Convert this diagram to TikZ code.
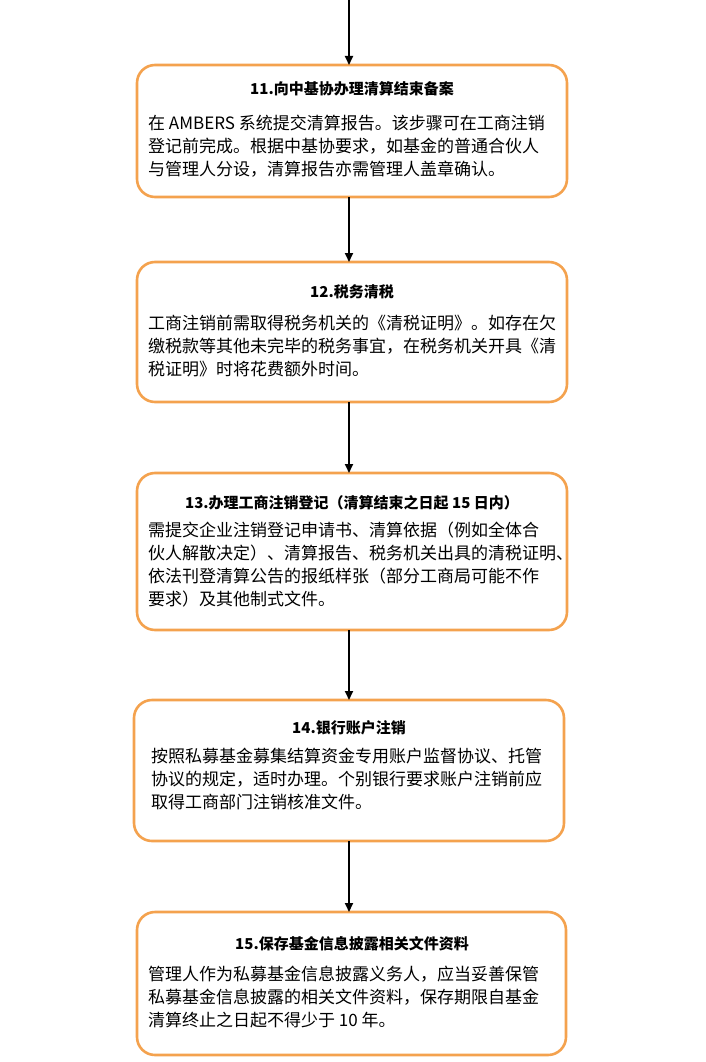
\documentclass[tikz,border=0pt]{standalone}
\usepackage{fontspec}
\newfontfamily\cjk{Noto Sans CJK SC}
\usetikzlibrary{arrows.meta}
\tikzset{
 boxst/.style={line width=2.6pt, rounded corners=18pt, fill=white},
 ttl/.style={font=\cjk\bfseries\fontsize{15}{17}\selectfont, anchor=center},
 bodyt/.style={font=\cjk\fontsize{17}{23}\selectfont, align=left, anchor=north west, inner sep=0pt},
 arr/.style={-{Triangle[length=9pt,width=8pt]}, line width=1.8pt}
}
\definecolor{bord}{HTML}{F4A24E}
\begin{document}
\begin{tikzpicture}[x=1pt,y=-1pt]
\useasboundingbox (0,0) rectangle (705,1062);
\coordinate (top) at (349,0);
\draw[boxst,draw=bord] (137,65) rectangle (567,197); \coordinate (b1t) at (349,65); \coordinate (b1b) at (349,197);
\draw[boxst,draw=bord] (137,262) rectangle (567,402); \coordinate (b2t) at (349,262); \coordinate (b2b) at (349,402);
\draw[boxst,draw=bord] (137,473) rectangle (567,630); \coordinate (b3t) at (349,473); \coordinate (b3b) at (349,630);
\draw[boxst,draw=bord] (134,700) rectangle (564,841); \coordinate (b4t) at (349,700); \coordinate (b4b) at (349,841);
\draw[boxst,draw=bord] (137,912) rectangle (566,1055); \coordinate (b5t) at (349,912);
\draw[arr] (top) -- (b1t);
\draw[arr] (b1b) -- (b2t);
\draw[arr] (b2b) -- (b3t);
\draw[arr] (b3b) -- (b4t);
\draw[arr] (b4b) -- (b5t);
\node[ttl] (t1) at (352,89) {11.向中基协办理清算结束备案};
\node[bodyt] (x1) at (148,115) {在 AMBERS 系统提交清算报告。该步骤可在工商注销\\登记前完成。根据中基协要求，如基金的普通合伙人\\与管理人分设，清算报告亦需管理人盖章确认。};
\node[ttl] (t2) at (352,292) {12.税务清税};
\node[bodyt] (x2) at (148,315) {工商注销前需取得税务机关的《清税证明》。如存在欠\\缴税款等其他未完毕的税务事宜，在税务机关开具《清\\税证明》时将花费额外时间。};
\node[ttl] (t3) at (352,503) {13.办理工商注销登记（清算结束之日起 15 日内）};
\node[bodyt] (x3) at (148,522) {需提交企业注销登记申请书、清算依据（例如全体合\\伙人解散决定）、清算报告、税务机关出具的清税证明、\\依法刊登清算公告的报纸样张（部分工商局可能不作\\要求）及其他制式文件。};
\node[ttl] (t4) at (349,728) {14.银行账户注销};
\node[bodyt] (x4) at (151,748) {按照私募基金募集结算资金专用账户监督协议、托管\\协议的规定，适时办理。个别银行要求账户注销前应\\取得工商部门注销核准文件。};
\node[ttl] (t5) at (352,944) {15.保存基金信息披露相关文件资料};
\node[bodyt] (x5) at (148,966) {管理人作为私募基金信息披露义务人，应当妥善保管\\私募基金信息披露的相关文件资料，保存期限自基金\\清算终止之日起不得少于 10 年。};
\end{tikzpicture}
\end{document}
